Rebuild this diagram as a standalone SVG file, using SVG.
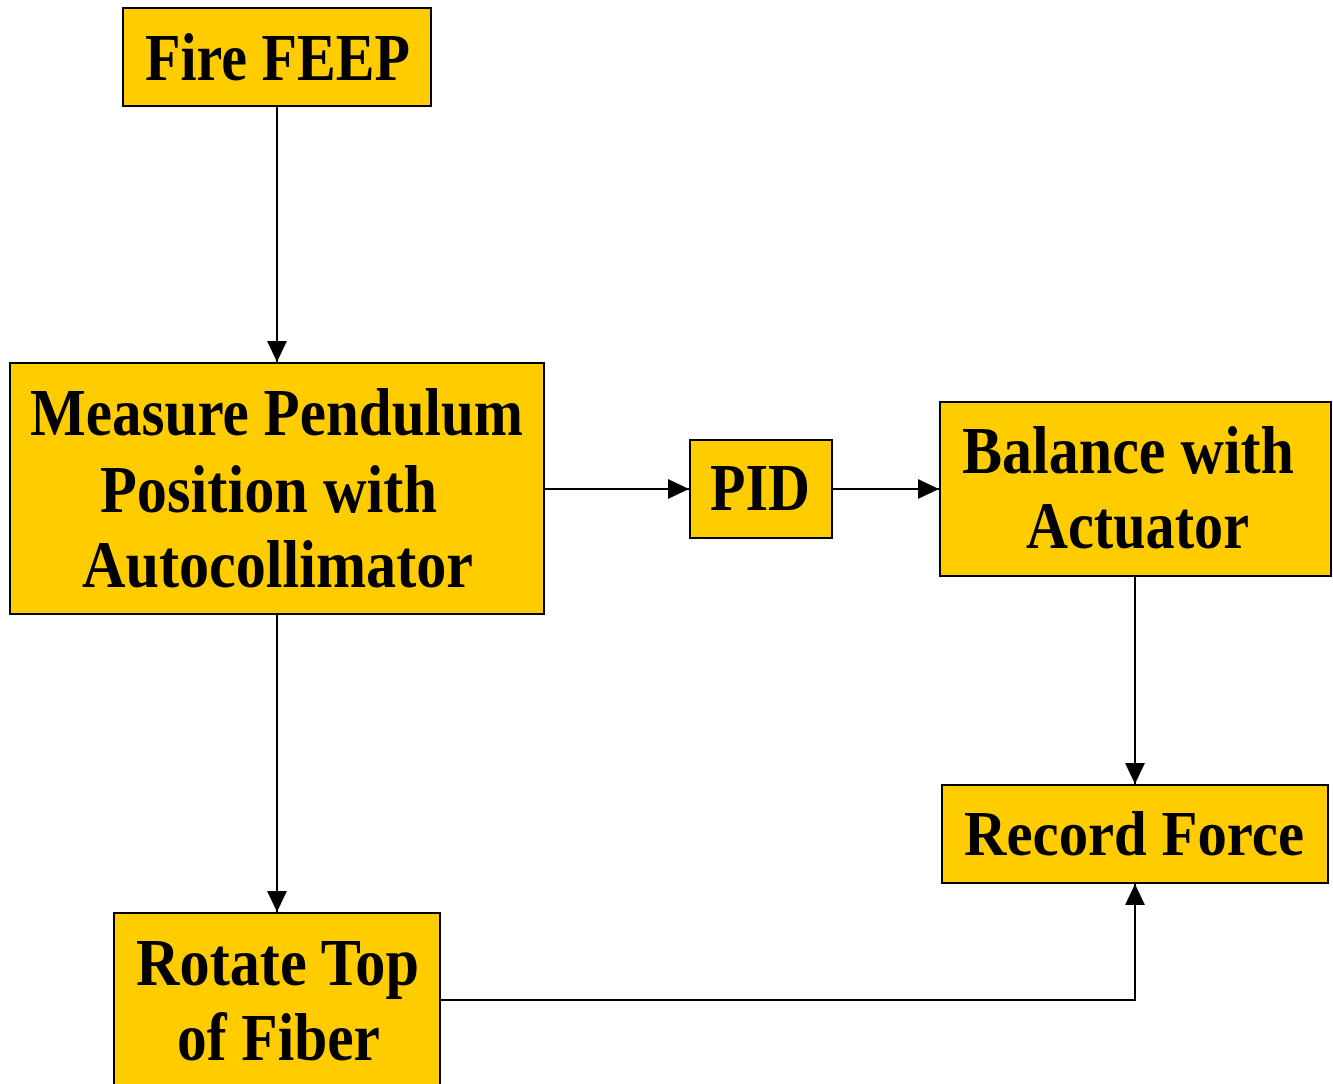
<svg xmlns="http://www.w3.org/2000/svg" width="1333" height="1084" viewBox="0 0 1333 1084">
<style>
.box{fill:#FFCC00;stroke:#000;stroke-width:2}
.t{font-family:"Liberation Serif","Times New Roman",serif;font-weight:bold;font-size:67px;fill:#000}
.c{fill:none;stroke:#000;stroke-width:2}
</style>
<defs>
<marker id="ah" markerWidth="21" markerHeight="20" refX="21" refY="10" orient="auto" markerUnits="userSpaceOnUse">
<path d="M0,0 L21,10 L0,20 Z" fill="#000"/>
</marker>
</defs>
<rect width="1333" height="1084" fill="#fff"/>
<g id="connectors">
<path class="c" d="M277,106 V362" marker-end="url(#ah)"/>
<path class="c" d="M544,489 H689" marker-end="url(#ah)"/>
<path class="c" d="M832,489 H939" marker-end="url(#ah)"/>
<path class="c" d="M1135,576 V784" marker-end="url(#ah)"/>
<path class="c" d="M277,614 V912" marker-end="url(#ah)"/>
<path class="c" d="M440,1000 H1135 V884" marker-end="url(#ah)"/>
</g>
<g id="fire">
<rect class="box" x="123" y="8" width="308" height="98"/>
<text class="t" x="145" y="80" textLength="265" lengthAdjust="spacingAndGlyphs">Fire FEEP</text>
</g>
<g id="measure">
<rect class="box" x="10" y="363" width="534" height="251"/>
<text class="t" x="30" y="435" textLength="493" lengthAdjust="spacingAndGlyphs">Measure Pendulum</text>
<text class="t" x="100" y="512" textLength="337" lengthAdjust="spacingAndGlyphs">Position with</text>
<text class="t" x="82" y="587" textLength="391" lengthAdjust="spacingAndGlyphs">Autocollimator</text>
</g>
<g id="pid">
<rect class="box" x="690" y="440" width="142" height="98"/>
<text class="t" x="710" y="510" textLength="100" lengthAdjust="spacingAndGlyphs">PID</text>
</g>
<g id="balance">
<rect class="box" x="940" y="402" width="391" height="174"/>
<text class="t" x="962" y="473" textLength="332" lengthAdjust="spacingAndGlyphs">Balance with</text>
<text class="t" x="1026" y="548" textLength="223" lengthAdjust="spacingAndGlyphs">Actuator</text>
</g>
<g id="record">
<rect class="box" x="942" y="785" width="386" height="98"/>
<text class="t" x="964" y="855" style="font-size:64px" textLength="340" lengthAdjust="spacingAndGlyphs">Record Force</text>
</g>
<g id="rotate">
<rect class="box" x="114" y="913" width="326" height="180"/>
<text class="t" x="136" y="985" textLength="283" lengthAdjust="spacingAndGlyphs">Rotate Top</text>
<text class="t" x="177" y="1060" textLength="203" lengthAdjust="spacingAndGlyphs">of Fiber</text>
</g>
</svg>
